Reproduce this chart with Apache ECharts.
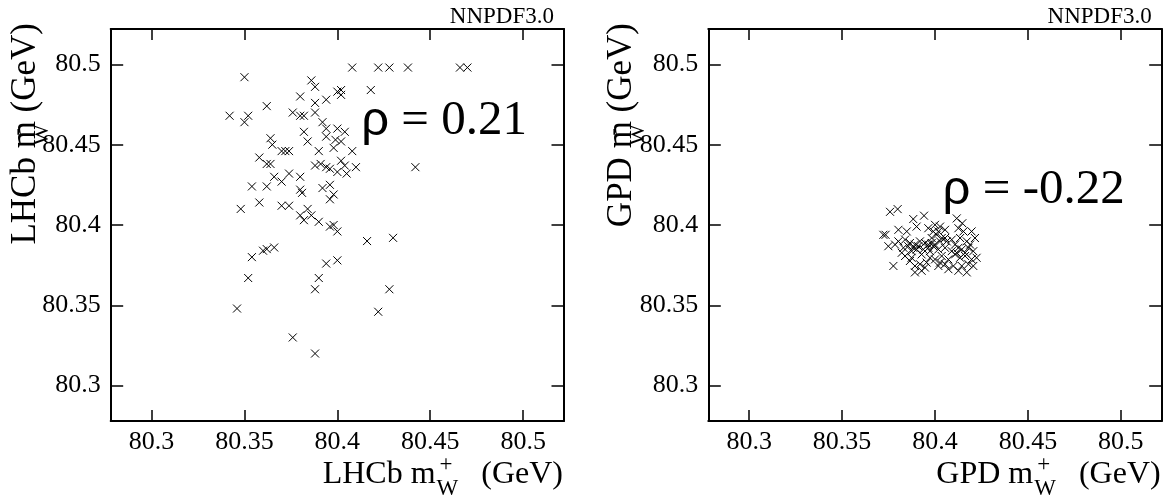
<!DOCTYPE html>
<html><head><meta charset="utf-8">
<script src="https://cdn.jsdelivr.net/npm/echarts@6/dist/echarts.min.js"></script>
<style>html,body{margin:0;padding:0;background:#fff}#c{width:1170px;height:496px}</style>
</head><body><div id="c"></div>
<script>
const tickValues = [80.3, 80.35, 80.4, 80.45, 80.5];
const tickLabels = ['80.3', '80.35', '80.4', '80.45', '80.5'];
const axisRange = [80.278, 80.522];

const lhcbPlus = [80.408,80.422,80.428,80.438,80.466,80.470,80.350,80.386,80.388,80.418,
80.380,80.400,80.402,80.402,80.394,80.388,80.362,80.342,80.352,80.350,
80.376,80.380,80.382,80.388,80.392,80.394,80.400,80.404,80.382,80.394,
80.384,80.364,80.365,80.399,80.402,80.398,80.370,80.372,80.374,80.390,
80.408,80.358,80.362,80.364,80.388,80.394,80.396,80.402,80.404,80.410,
80.400,80.405,80.391,80.442,80.366,80.374,80.380,80.370,80.354,80.362,
80.380,80.381,80.392,80.396,80.398,80.396,80.348,80.358,80.370,80.374,
80.380,80.384,80.382,80.386,80.390,80.396,80.398,80.400,80.416,80.430,
80.354,80.360,80.362,80.366,80.394,80.400,80.352,80.390,80.388,80.428,
80.346,80.422,80.376,80.388];
const lhcbMinus = [80.498,80.498,80.498,80.498,80.498,80.498,80.492,80.490,80.486,80.484,
80.480,80.483,80.484,80.481,80.478,80.476,80.474,80.468,80.468,80.464,
80.470,80.468,80.468,80.470,80.464,80.460,80.460,80.458,80.458,80.455,
80.452,80.454,80.450,80.453,80.452,80.448,80.446,80.446,80.446,80.446,
80.446,80.442,80.438,80.438,80.437,80.436,80.435,80.440,80.437,80.436,
80.433,80.432,80.438,80.436,80.430,80.432,80.430,80.427,80.424,80.424,
80.422,80.420,80.423,80.425,80.419,80.416,80.410,80.414,80.412,80.412,
80.406,80.410,80.403,80.406,80.402,80.399,80.400,80.396,80.390,80.392,
80.380,80.384,80.385,80.386,80.376,80.378,80.367,80.367,80.360,80.360,
80.348,80.346,80.330,80.320];

const gpdPlus = [80.3758,80.3799,80.3883,80.3941,80.4117,80.4147,80.3722,80.3734,80.3803,80.3848,
80.3901,80.3964,80.4000,80.4027,80.4054,80.4126,80.4153,80.4197,80.3803,80.3839,
80.3865,80.3892,80.3919,80.3946,80.3982,80.4009,80.4036,80.4063,80.4090,80.4135,
80.4171,80.4215,80.3830,80.3856,80.3883,80.3910,80.3937,80.3964,80.3991,80.4018,
80.4054,80.4090,80.4117,80.4144,80.4180,80.4206,80.3839,80.3874,80.3928,80.3973,
80.4000,80.4036,80.4072,80.4108,80.4135,80.4162,80.4197,80.3892,80.3919,80.3955,
80.4027,80.4054,80.4099,80.4144,80.4180,80.4206,80.3776,80.3892,80.3928,80.3946,
80.4126,80.4171,80.3964,80.3982,80.4000,80.4027,80.4054,80.4018,80.3991,80.3973,
80.3901,80.3874,80.4108,80.4126,80.4162,80.4189,80.4224,80.4072,80.4018,80.3865,
80.3821,80.3785,80.3749];
const gpdMinus = [80.4082,80.4099,80.4037,80.4058,80.4041,80.4011,80.3939,80.3939,80.3970,80.3960,
80.3990,80.3980,80.4001,80.3990,80.3970,80.3980,80.3960,80.3960,80.3898,80.3909,
80.3888,80.3878,80.3898,80.3888,80.3919,80.3939,80.3919,80.3898,80.3909,80.3919,
80.3898,80.3919,80.3858,80.3868,80.3858,80.3868,80.3848,80.3858,80.3868,80.3848,
80.3858,80.3837,80.3827,80.3848,80.3858,80.3837,80.3807,80.3796,80.3817,80.3796,
80.3786,80.3807,80.3786,80.3817,80.3796,80.3807,80.3786,80.3745,80.3756,80.3766,
80.3766,80.3756,80.3745,80.3745,80.3756,80.3745,80.3745,80.3705,80.3715,80.3735,
80.3715,80.3705,80.3878,80.3888,80.3878,80.3898,80.3919,80.3960,80.3960,80.3837,
80.3848,80.3837,80.3878,80.3858,80.3827,80.3878,80.3796,80.3725,80.3745,80.3776,
80.3827,80.3878,80.3868];

const panelNames = ['LHCb', 'GPD'];
const rhoValues = ['0.21', '-0.22'];
const tagText = 'NNPDF3.0';

const SERIF = 'Liberation Serif';
const SANS = 'Liberation Sans';

const mctx = document.createElement('canvas').getContext('2d');
function tw(t, fs, fam) { mctx.font = fs + 'px "' + fam + '"'; return mctx.measureText(t).width; }
function txt(t, fs, fam, x, base, align) {
  return { type: 'text', x: x, y: base - 0.34 * fs, silent: true,
    style: { text: t, fontSize: fs, fontFamily: fam, fill: '#000', align: align || 'left', verticalAlign: 'middle' } };
}
function xTitle(name, R, base) {
  const fs = 32, sfs = 23, gap = 23;
  const wG = tw('(GeV)', fs, SERIF), wW = tw('W', sfs, SERIF);
  const wStart = R - wG - gap - wW;
  return { type: 'group', children: [
    txt('(GeV)', fs, SERIF, R, base, 'right'),
    txt('W', sfs, SERIF, wStart, base + 12, 'left'),
    txt('+', sfs, SERIF, wStart + 3, base - 12, 'left'),
    txt(name + ' m', fs, SERIF, wStart - 1, base, 'right')
  ] };
}
function yTitle(name, bx, topY) {
  const fs = 35, sfs = 22;
  const wG = tw('(GeV)', fs, SERIF), wS = tw(' ', fs, SERIF), wm = tw('m', fs, SERIF);
  const mEnd = -(wG + wS), mC = mEnd - wm / 2;
  return { type: 'group', x: bx, y: topY, rotation: Math.PI / 2, children: [
    txt('(GeV)', fs, SERIF, 0, 0, 'right'),
    txt(name + ' m', fs, SERIF, mEnd, 0, 'right'),
    txt('W', sfs, SERIF, mC, 11.5, 'center'),
    txt('-', sfs, SERIF, mC + 3, -13.5, 'center')
  ] };
}

const grids = [
  { left: 110.7, top: 29, width: 453.3, height: 392 },
  { left: 708.3, top: 29, width: 453.4, height: 392 }
];
const yTitleX = [38, 634];

function fmt(v) {
  const i = tickValues.findIndex(t => Math.abs(t - v) < 1e-7);
  return i >= 0 ? tickLabels[i] : '';
}
function mkAxis(g, dim, pos, labels) {
  return {
    type: 'value', gridIndex: g, position: pos, min: axisRange[0], max: axisRange[1],
    axisLine: { show: true, onZero: false, lineStyle: { color: '#000', width: 2 } },
    axisTick: { show: true, inside: true, length: dim === 'x' ? 11 : 12.5, customValues: tickValues,
      lineStyle: { color: '#000', width: 1.5 } },
    axisLabel: { show: labels, customValues: tickValues, formatter: fmt, fontFamily: SERIF, fontSize: 26,
      color: '#000', margin: dim === 'x' ? 8 : 10 },
    splitLine: { show: false }
  };
}
const xAxes = [], yAxes = [];
for (let g = 0; g < 2; g++) {
  xAxes.push(mkAxis(g, 'x', 'bottom', true), mkAxis(g, 'x', 'top', false));
  yAxes.push(mkAxis(g, 'y', 'left', true), mkAxis(g, 'y', 'right', false));
}
const dataSets = [[lhcbPlus, lhcbMinus], [gpdPlus, gpdMinus]];
const series = dataSets.map((d, g) => ({
  type: 'scatter', xAxisIndex: 2 * g, yAxisIndex: 2 * g,
  data: d[0].map((v, i) => [v, d[1][i]]),
  symbol: 'path://M0 0L10 10M10 0L0 10', symbolSize: 8,
  itemStyle: { color: 'transparent', borderColor: '#000', borderWidth: 1, opacity: 1 },
  silent: true
}));

const graphics = [];
const rhoBase = [138, 207];
grids.forEach((gr, g) => {
  const right = gr.left + gr.width;
  graphics.push(txt(tagText, 23, SERIF, right - 10, 25, 'right'));
  const rest = ' = ' + rhoValues[g];
  const wRest = tw(rest, 49, SERIF);
  graphics.push(txt(rest, 49, SERIF, right - 37, rhoBase[g], 'right'));
  graphics.push(txt('ρ', 49, SANS, right - 37 - wRest, rhoBase[g], 'right'));
  graphics.push(xTitle(panelNames[g], right - 1, 485));
  graphics.push(yTitle(panelNames[g], yTitleX[g], 23));
});

const chart = echarts.init(document.getElementById('c'), null, { renderer: 'canvas' });
chart.setOption({
  animation: false, backgroundColor: '#fff',
  grid: grids, xAxis: xAxes, yAxis: yAxes, series: series,
  graphic: { elements: graphics }
});
</script></body></html>
